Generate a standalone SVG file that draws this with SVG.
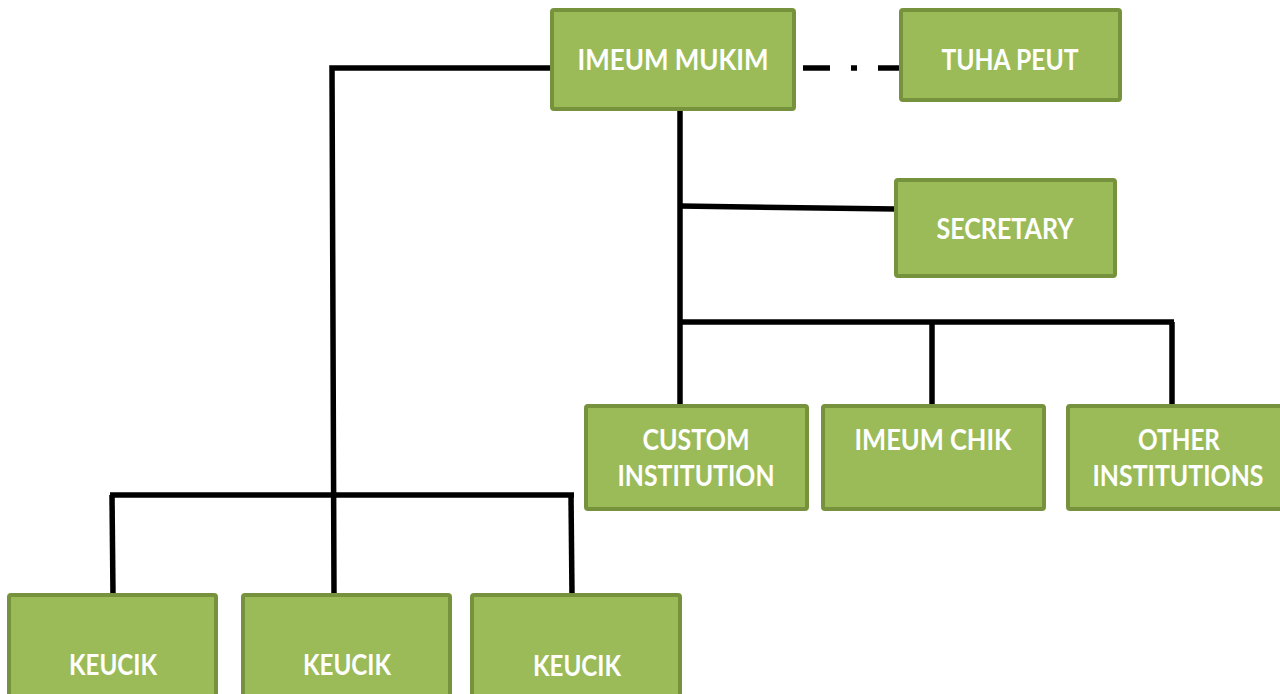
<svg xmlns="http://www.w3.org/2000/svg" width="1280" height="694" viewBox="0 0 1280 694">
  <style>
    .box { fill: #9BBB59; stroke: #76923C; stroke-width: 4; }
    .lbl { fill: #FFFFFF; font-family: Lato, "Open Sans", "Liberation Sans", sans-serif; font-weight: bold; font-size: 28px; text-anchor: middle; }
    .ln { stroke: #000000; stroke-width: 5.5; fill: none; }
  </style>
  <rect width="1280" height="694" fill="#FFFFFF"/>

  <!-- connectors -->
  <g id="connectors">
    <polyline class="ln" points="552,68 332,68 334,594"/>
    <line class="ln" x1="110" y1="495" x2="574" y2="495"/>
    <line class="ln" x1="112" y1="495" x2="113" y2="594"/>
    <line class="ln" x1="571" y1="495" x2="572" y2="594"/>
    <line class="ln" x1="680" y1="110" x2="680" y2="405"/>
    <line class="ln" x1="680" y1="206" x2="896" y2="209"/>
    <line class="ln" x1="680" y1="322" x2="1174" y2="322"/>
    <line class="ln" x1="932" y1="322" x2="932" y2="405"/>
    <line class="ln" x1="1172" y1="322" x2="1172" y2="405"/>
    <!-- dash-dot link to the council -->
    <line class="ln" x1="803" y1="68" x2="830" y2="68" stroke-width="6"/>
    <line class="ln" x1="851" y1="68" x2="857" y2="68" stroke-width="6"/>
    <line class="ln" x1="878" y1="68" x2="901" y2="68" stroke-width="6"/>
  </g>

  <g id="imeum-mukim">
    <rect class="box" x="552" y="10" width="242" height="99" rx="2"/>
    <text class="lbl" x="673" y="70" textLength="191" lengthAdjust="spacingAndGlyphs">IMEUM MUKIM</text>
  </g>
  <g id="tuha-peut">
    <rect class="box" x="901" y="10" width="219" height="90" rx="2"/>
    <text class="lbl" x="1010" y="70" textLength="137" lengthAdjust="spacingAndGlyphs">TUHA PEUT</text>
  </g>
  <g id="secretary">
    <rect class="box" x="896" y="180" width="219" height="96" rx="2"/>
    <text class="lbl" x="1005" y="239" textLength="137" lengthAdjust="spacingAndGlyphs">SECRETARY</text>
  </g>
  <g id="custom-institution">
    <rect class="box" x="586" y="406" width="221" height="103" rx="2"/>
    <text class="lbl" x="696" y="450" textLength="107" lengthAdjust="spacingAndGlyphs">CUSTOM</text>
    <text class="lbl" x="696" y="486" textLength="157" lengthAdjust="spacingAndGlyphs">INSTITUTION</text>
  </g>
  <g id="imeum-chik">
    <rect class="box" x="823" y="406" width="221" height="103" rx="2"/>
    <text class="lbl" x="933" y="450" textLength="157" lengthAdjust="spacingAndGlyphs">IMEUM CHIK</text>
  </g>
  <g id="other-institutions">
    <rect class="box" x="1068" y="406" width="221" height="103" rx="2"/>
    <text class="lbl" x="1179" y="450" textLength="82" lengthAdjust="spacingAndGlyphs">OTHER</text>
    <text class="lbl" x="1178" y="486" textLength="171" lengthAdjust="spacingAndGlyphs">INSTITUTIONS</text>
  </g>
  <g id="keucik-1">
    <rect class="box" x="9" y="595" width="207" height="110" rx="2"/>
    <text class="lbl" x="113" y="675" textLength="88" lengthAdjust="spacingAndGlyphs">KEUCIK</text>
  </g>
  <g id="keucik-2">
    <rect class="box" x="243" y="595" width="207" height="110" rx="2"/>
    <text class="lbl" x="347" y="675" textLength="88" lengthAdjust="spacingAndGlyphs">KEUCIK</text>
  </g>
  <g id="keucik-3">
    <rect class="box" x="472" y="595" width="208" height="110" rx="2"/>
    <text class="lbl" x="577" y="676" textLength="88" lengthAdjust="spacingAndGlyphs">KEUCIK</text>
  </g>
</svg>
